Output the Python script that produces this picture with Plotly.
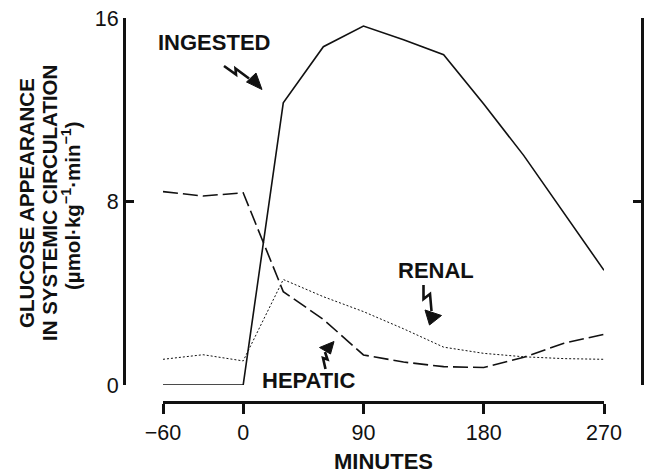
import plotly.graph_objects as go

# ---- data ----
minutes = [-60, -30, 0, 30, 60, 90, 120, 150, 180, 210, 240, 270]
ingested = [0, 0, 0, 12.3, 14.75, 15.65, 15.05, 14.4, 12.25, 10.0, 7.5, 5.0]
hepatic = [8.43, 8.24, 8.38, 4.07, 2.86, 1.31, 1.0, 0.80, 0.76, 1.21, 1.82, 2.21]
renal = [1.12, 1.32, 1.05, 4.6, 3.85, 3.2, 2.45, 1.65, 1.38, 1.23, 1.15, 1.12]
x_ticks = [-60, 0, 90, 180, 270]
x_ticktext = ["\u221260", "0", "90", "180", "270"]
y_ticks = [0, 8, 16]
y_title_lines = ["GLUCOSE APPEARANCE", "IN SYSTEMIC CIRCULATION",
                 "(\u00b5mol\u00b7kg<sup>\u22121</sup>\u00b7min<sup>\u22121</sup>)"]

# ---- layout geometry (pixels) ----
W, H = 645, 476
L, R, T, B = 124, 3, 18, 74
PW, PH = W - L - R, H - T - B
X0PX, X1PX = 163, 604      # -60 and 270
Y0PX, Y1PX = 385, 18       # 0 and 16

FONT = "Liberation Sans, Arial, Helvetica, sans-serif"

def px2data(px, py):
    mx = -60 + (px - X0PX) * 330.0 / (X1PX - X0PX)
    vy = (Y0PX - py) * 16.0 / (Y0PX - Y1PX)
    return mx, vy

fig = go.Figure()
fig.add_trace(go.Scatter(x=minutes, y=ingested, mode="lines",
                         line=dict(color="#111", width=1.6)))
fig.add_trace(go.Scatter(x=minutes, y=hepatic, mode="lines",
                         line=dict(color="#111", width=1.6, dash="15px,5px")))
fig.add_trace(go.Scatter(x=minutes, y=renal, mode="lines",
                         line=dict(color="#111", width=1.0, dash="2px,2px")))
# invisible trace for right axis
fig.add_trace(go.Scatter(x=[minutes[0]], y=[0], yaxis="y2", mode="markers",
                         marker=dict(opacity=0), hoverinfo="skip"))

def squiggle_path(pts):
    d = []
    for i, (px, py) in enumerate(pts):
        mx, vy = px2data(px, py)
        d.append(("M" if i == 0 else "L") + f"{mx:.3f},{vy:.3f}")
    return " ".join(d)

def tri_path(pts):
    return squiggle_path(pts) + " Z"

arrows = [
    # INGESTED
    ([(224, 66), (236, 74.5), (235.5, 68.5), (249, 78.5)],
     [(246.5, 82), (256, 73), (262, 89.5)]),
    # RENAL
    ([(423.5, 285), (423.5, 299), (430, 294), (431.5, 311)],
     [(425, 310), (441.5, 315.5), (429.5, 325)]),
    # HEPATIC
    ([(325.5, 369), (323, 358), (327.5, 359.5), (325, 352)],
     [(319.5, 347.5), (330.5, 354), (334, 341.5)]),
]
shapes = []
for sq, tri in arrows:
    shapes.append(dict(type="path", xref="x", yref="y", path=squiggle_path(sq),
                       line=dict(color="#111", width=2.6)))
    shapes.append(dict(type="path", xref="x", yref="y", path=tri_path(tri),
                       fillcolor="#111", line=dict(color="#111", width=1)))

def pxx(px):
    return (px - L) / PW

def pxy(py):
    return (H - B - py) / PH

def label(text, cx, cy, size=22, family=FONT, angle=0):
    return dict(text=text, x=pxx(cx), y=pxy(cy), xref="paper", yref="paper",
                xanchor="center", yanchor="middle", showarrow=False,
                textangle=angle, font=dict(size=size, color="#111", family=family))

annotations = [
    label("<b>INGESTED</b>", 214, 43),
    label("<b>RENAL</b>", 435.5, 270),
    label("<b>HEPATIC</b>", 308, 380),
    label("<b>MINUTES</b>", 383, 461),
]
for i, (txt, cx) in enumerate(zip(y_title_lines, [26, 49, 71])):
    annotations.append(label(f"<b>{txt}</b>", cx, 203 if i < 2 else 206,
                             size=20.5, angle=-90))

fig.update_layout(
    width=W, height=H,
    margin=dict(l=L, r=R, t=T, b=B, pad=0, autoexpand=False),
    paper_bgcolor="white", plot_bgcolor="white",
    showlegend=False,
    font=dict(family=FONT, color="#111", size=21),
    xaxis=dict(domain=[pxx(X0PX), pxx(X1PX)], range=[-60, 270],
               anchor="free", position=0, automargin=False,
               tickmode="array", tickvals=x_ticks, ticktext=x_ticktext,
               ticks="outside", ticklen=10, tickwidth=3, tickcolor="#111",
               showline=True, linecolor="#111", linewidth=3,
               showgrid=False, zeroline=False,
               tickfont=dict(size=21.5, family=FONT, color="#111")),
    yaxis=dict(domain=[pxy(Y0PX), pxy(Y1PX)], range=[0, 16],
               anchor="free", position=0, automargin=False,
               tickmode="array", tickvals=y_ticks,
               ticks="inside", ticklen=8, tickwidth=3, tickcolor="#111",
               showline=True, linecolor="#111", linewidth=3,
               showgrid=False, zeroline=False,
               tickfont=dict(size=21.5, family=FONT, color="#111")),
    yaxis2=dict(domain=[pxy(Y0PX), pxy(Y1PX)], range=[0, 16],
                overlaying="y", side="right", anchor="free", position=1,
                automargin=False,
                tickmode="array", tickvals=y_ticks, showticklabels=False,
                ticks="inside", ticklen=8, tickwidth=3, tickcolor="#111",
                showline=True, linecolor="#111", linewidth=3,
                showgrid=False, zeroline=False),
    shapes=shapes,
    annotations=annotations,
)

fig.write_html("out.html")
